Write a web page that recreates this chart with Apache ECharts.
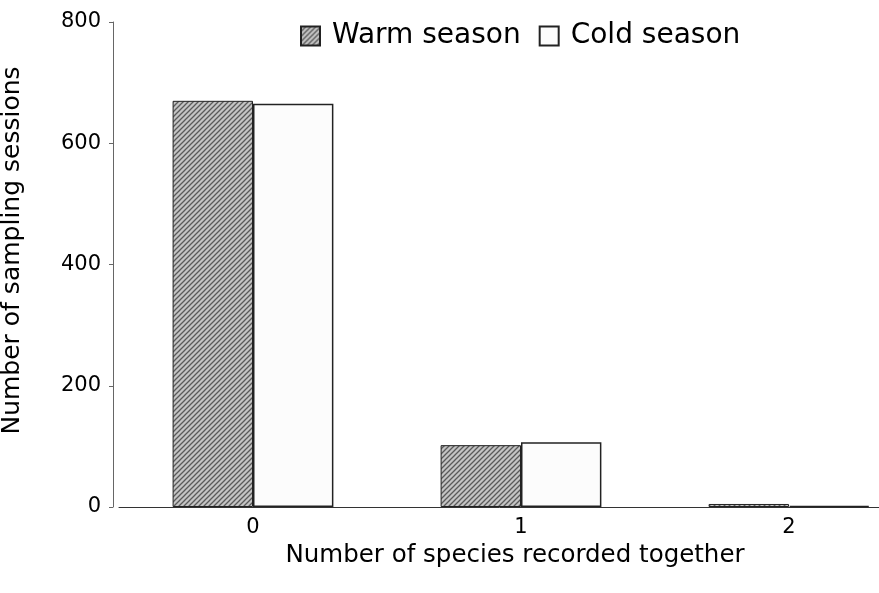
<!DOCTYPE html>
<html>
<head>
<meta charset="utf-8">
<script src="https://cdn.jsdelivr.net/npm/echarts@6/dist/echarts.min.js"></script>
<style>html,body{margin:0;padding:0;background:#fff}#c{width:879px;height:593px}</style>
</head>
<body>
<div id="c"></div>
<script>
const categories = ['0', '1', '2'];
const warmSeason = [670, 102, 5];
const coldSeason = [665, 107, 2];
const yTicks = [0, 200, 400, 600, 800];

function hatch() {
  const c = document.createElement('canvas');
  c.width = 5; c.height = 5;
  const g = c.getContext('2d');
  g.fillStyle = '#c4c4c4';
  g.fillRect(0, 0, 5, 5);
  g.strokeStyle = '#5a5a5a';
  g.lineWidth = 1.3;
  g.beginPath();
  g.moveTo(-1, 6); g.lineTo(6, -1);
  g.moveTo(-1, 1); g.lineTo(1, -1);
  g.moveTo(4, 6); g.lineTo(6, 4);
  g.stroke();
  return c;
}
const font = '"DejaVu Sans", sans-serif';
const chart = echarts.init(document.getElementById('c'));
chart.setOption({
  animation: false,
  textStyle: { fontFamily: font, color: '#000' },
  legend: {
    left: 300, top: 22, padding: 0, itemWidth: 19, itemHeight: 19, itemGap: 18, icon: 'rect',
    textStyle: { fontSize: 28, color: '#000', fontFamily: font, padding: [0, 0, 0, 7] },
    data: ['Warm season', 'Cold season']
  },
  grid: { left: 119, top: 22, width: 804, bottom: 86, outerBoundsMode: 'none', containLabel: false },
  xAxis: {
    type: 'category', data: categories,
    axisLine: { lineStyle: { color: '#333', width: 1 } },
    axisTick: { lineStyle: { color: '#333' }, length: 6 },
    axisLabel: { fontSize: 21, color: '#000', margin: 10 },
    name: 'Number of species recorded together', nameLocation: 'middle', nameGap: 34,
    nameTextStyle: { fontSize: 24.5, color: '#000', padding: [0, 12, 0, 0] }
  },
  yAxis: {
    type: 'value', min: yTicks[0], max: yTicks[yTicks.length - 1], interval: 200, offset: 6,
    splitLine: { show: false },
    axisLine: { show: true, lineStyle: { color: '#666', width: 1 } },
    axisTick: { show: true, length: 4, lineStyle: { color: '#666' } },
    axisLabel: { fontSize: 21, color: '#000', margin: 12 },
    name: 'Number of sampling sessions', nameLocation: 'middle', nameGap: 88,
    nameTextStyle: { fontSize: 25, color: '#000', padding: [0, 0, 0, 28] }
  },
  series: [
    { name: 'Warm season', type: 'bar', data: warmSeason, barGap: '0%', barCategoryGap: '40%',
      itemStyle: { color: { image: hatch(), repeat: 'repeat' }, borderColor: '#222', borderWidth: 1 } },
    { name: 'Cold season', type: 'bar', data: coldSeason,
      itemStyle: { color: '#fcfcfc', borderColor: '#222', borderWidth: 1.5 } }
  ]
});
</script>
</body>
</html>
